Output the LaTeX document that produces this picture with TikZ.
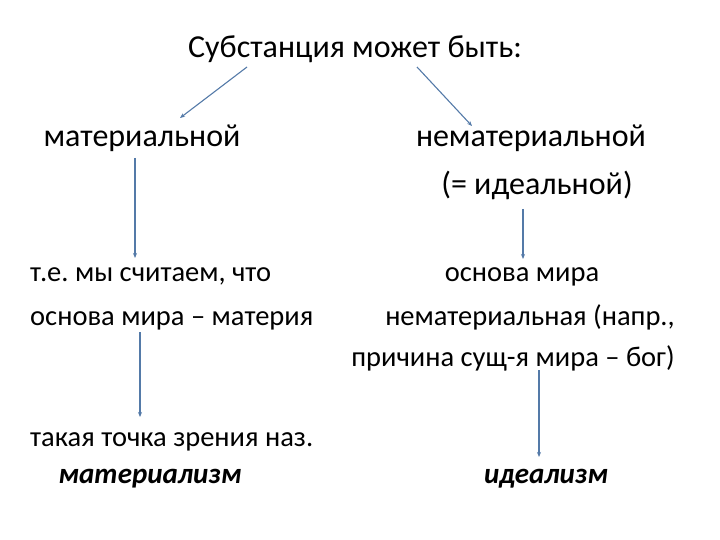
\documentclass[tikz,border=0pt]{standalone}
\usepackage{fontspec}
\setmainfont{Carlito}
\usetikzlibrary{arrows.meta}
\definecolor{arrcol}{RGB}{84,122,168}
\frenchspacing
\tikzset{
  txt/.style={inner sep=0pt, font=\fontsize{28.5}{34}\selectfont},
  big/.style={inner sep=0pt, font=\fontsize{32}{38}\selectfont},
  bit/.style={inner sep=0pt, font=\fontsize{29}{35}\selectfont\bfseries\itshape},
  arr/.style={draw=arrcol, line width=1.1pt, -{Stealth[length=5pt,width=4pt]}}
}
\begin{document}
\begin{tikzpicture}[x=1pt,y=-1pt]
\useasboundingbox (0,0) rectangle (720,540);
\node[big,anchor=base] (title) at (355,58) {Субстанция может быть:};
\node[big,anchor=base] (mat) at (142,147) {материальной};
\node[big,anchor=base] (nemat) at (531,147) {нематериальной};
\node[big,anchor=base] (ideal) at (537,195) {(= идеальной)};
\node[txt,anchor=base west] (te) at (30,281) {т.е. мы считаем, что};
\node[txt,anchor=base west] (te2) at (30,325) {основа мира – материя};
\node[txt,anchor=base] (osn) at (522,281) {основа мира};
\node[txt,anchor=base] (nem2) at (530,325) {нематериальная (напр.,};
\node[txt,anchor=base] (prich) at (513,366) {причина сущ-я мира – бог)};
\node[txt,anchor=base west] (tak) at (30,446) {такая точка зрения наз.};
\node[bit,anchor=base] (materialism) at (150,483) {материализм};
\node[bit,anchor=base] (idealism) at (546,483) {идеализм};

\draw[arr] ([xshift=-108pt,yshift=-9pt]title.base) -- ([xshift=38pt,yshift=29pt]mat.base);
\draw[arr] ([xshift=62pt,yshift=-9pt]title.base) -- ([xshift=-59pt,yshift=21pt]nemat.base);
\draw[arr] ([xshift=-7pt,yshift=-11pt]mat.base) -- ([xshift=105pt,yshift=23pt]te.base west);
\draw[arr] ([xshift=-14pt,yshift=-14pt]ideal.base) -- ([xshift=1pt,yshift=22pt]osn.base);
\draw[arr] ([xshift=110pt,yshift=-7pt]te2.base west) -- ([xshift=110pt,yshift=29pt]tak.base west);
\draw[arr] ([xshift=26pt,yshift=-4pt]prich.base) -- ([xshift=-7pt,yshift=26pt]idealism.base);
\end{tikzpicture}
\end{document}
